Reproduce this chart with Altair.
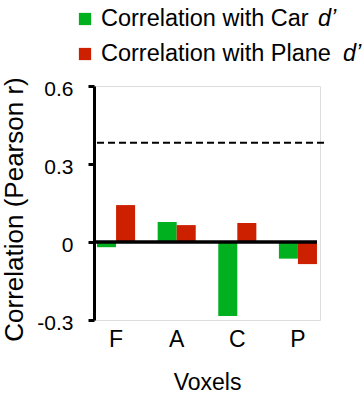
import altair as alt
import pandas as pd

# Region labels and the correlation of each region's voxels with behaviour
voxels = ["F", "A", "C", "P"]
car_r = [-0.02, 0.077, -0.285, -0.064]
plane_r = [0.142, 0.065, 0.073, -0.085]
threshold_r = 0.382

series = ["Car", "Plane"]
colors = ["#00B01E", "#CC2000"]
legend_labels = ["Correlation with Car", "Correlation with Plane"]
y_ticks = [-0.3, 0.0, 0.3, 0.6]

FONT = "Liberation Sans"
W, H = 226, 234

rows = []
for v, c, p in zip(voxels, car_r, plane_r):
    rows.append({"voxel": v, "series": "Car", "r": c})
    rows.append({"voxel": v, "series": "Plane", "r": p})
df = pd.DataFrame(rows)

y_scale = alt.Scale(domain=[-0.3, 0.6], nice=False, zero=False)

bars = alt.Chart(df).mark_bar(clip=False).encode(
    x=alt.X(
        "voxel:N",
        sort=voxels,
        scale=alt.Scale(paddingInner=0.372, paddingOuter=0.05),
        axis=alt.Axis(
            title="Voxels",
            labelAngle=0,
            domain=False,
            ticks=False,
            labelFont=FONT,
            labelFontSize=23,
            labelColor="black",
            labelPadding=8,
            titleFont=FONT,
            titleFontSize=23,
            titleFontWeight="normal",
            titleColor="black",
            titlePadding=20,
        ),
    ),
    xOffset=alt.XOffset("series:N", sort=series),
    y=alt.Y(
        "r:Q",
        scale=y_scale,
        axis=alt.Axis(
            title="Correlation (Pearson r)",
            values=y_ticks,
            labelExpr="datum.value == 0 ? '0' : replace(format(datum.value, '.1f'), '\u2212', '-')",
            grid=False,
            domainColor="black",
            domainWidth=3,
            tickColor="black",
            tickWidth=3,
            tickSize=6,
            labelFont=FONT,
            labelFontSize=21,
            labelColor="black",
            labelPadding=15,
            labelOffset=3,
            titleFont=FONT,
            titleFontSize=26,
            titleFontWeight="normal",
            titleColor="black",
            titleAngle=-90,
            titleX=-80,
            titleY=123,
            titleAlign="center",
            titleBaseline="middle",
        ),
    ),
    color=alt.Color(
        "series:N",
        scale=alt.Scale(domain=series, range=colors),
        legend=None,
    ),
)

zero_line = alt.Chart(pd.DataFrame({"r": [0.0]})).mark_rule(
    color="black", strokeWidth=3.5
).encode(y=alt.Y("r:Q", scale=y_scale), x=alt.value(0), x2=alt.value(223))

threshold = alt.Chart(pd.DataFrame({"r": [threshold_r]})).mark_rule(
    color="black", strokeWidth=2, strokeDash=[7, 4]
).encode(y=alt.Y("r:Q", scale=y_scale), x=alt.value(3), x2=alt.value(230))

# Hand-built legend: coloured square, label text and italic d' per row
legend_rows = [(-67, 224), (-32, 249)]
legend_layers = []
for (row_y, prime_x), name, col, label in zip(legend_rows, series, colors, legend_labels):
    one = pd.DataFrame({"series": [name], "label": [label], "t": ["d’"]})
    legend_layers.append(
        alt.Chart(one).mark_square(size=150, opacity=1, color=col, clip=False).encode(
            x=alt.value(-9), y=alt.value(row_y)
        )
    )
    legend_layers.append(
        alt.Chart(one).mark_text(
            align="left", baseline="middle", font=FONT, fontSize=23.5,
            color="black", clip=False
        ).encode(x=alt.value(7), y=alt.value(row_y), text="label:N")
    )
    legend_layers.append(
        alt.Chart(one).mark_text(
            align="left", baseline="middle", font=FONT, fontSize=23.5,
            fontStyle="italic", color="black", clip=False
        ).encode(x=alt.value(prime_x), y=alt.value(row_y), text="t:N")
    )

chart = alt.layer(bars, zero_line, threshold, *legend_layers).properties(
    width=W,
    height=H,
    autosize=alt.AutoSizeParams(type="none"),
    padding={"left": 94, "top": 86, "right": 362 - 94 - W, "bottom": 403 - 86 - H},
).configure_view(stroke=None).configure(background="white")

chart.save("out.html", embed_options={"renderer": "svg", "actions": False})
